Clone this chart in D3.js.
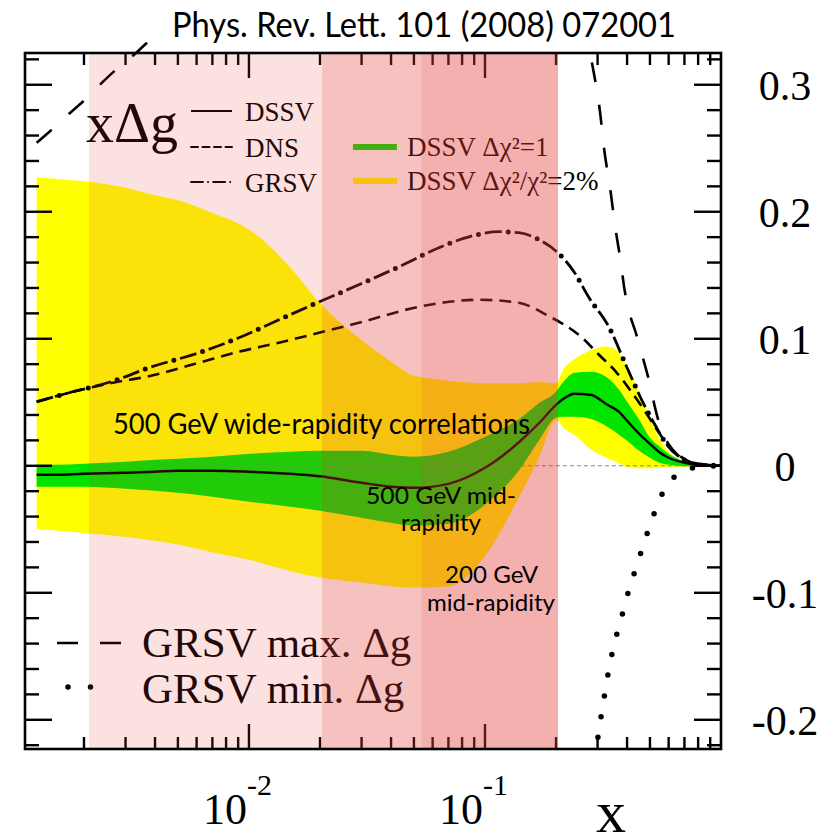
<!DOCTYPE html>
<html>
<head>
<meta charset="utf-8">
<script src="https://cdn.jsdelivr.net/npm/d3@7"></script>
<style>
  body { margin: 0; background: #fff; }
  svg { display: block; }
</style>
</head>
<body>
<svg id="chart" width="831" height="833"></svg>
<script>
// x grid shared by the DSSV central curve and its two uncertainty bands
const bandX = [0.00126, 0.0015, 0.002, 0.003, 0.004, 0.005, 0.007, 0.01, 0.015, 0.02, 0.03, 0.04, 0.05, 0.07, 0.1,
  0.14, 0.17, 0.2, 0.215, 0.24, 0.28, 0.33, 0.37, 0.4, 0.45, 0.5, 0.55, 0.6, 0.7, 0.8, 0.9, 1.0];
const dssvCentral = [-0.0071, -0.0071, -0.0063, -0.0055, -0.0047, -0.0039, -0.0039, -0.0047, -0.0063, -0.0083, -0.0134,
  -0.0165, -0.0173, -0.0142, -0.0016, 0.0189, 0.0339, 0.048, 0.0528, 0.0567, 0.0559, 0.048, 0.0425, 0.0354, 0.0252,
  0.0173, 0.0105, 0.0063, 0.0024, 0.0008, 0.0002, 0];
const greenHi = [0.0008, 0.0008, 0.0016, 0.0031, 0.0047, 0.0055, 0.0071, 0.0094, 0.011, 0.0118, 0.0118, 0.0087, 0.0071,
  0.011, 0.0228, 0.037, 0.0496, 0.0583, 0.0661, 0.0732, 0.074, 0.0693, 0.0598, 0.0504, 0.0362, 0.022, 0.015, 0.0095,
  0.0035, 0.0016, 0.0008, 0.0004];
const greenLo = [-0.0165, -0.0165, -0.0165, -0.0181, -0.0197, -0.0213, -0.0244, -0.0283, -0.0323, -0.0354, -0.0409,
  -0.0449, -0.0472, -0.0457, -0.0307, -0.0031, 0.0205, 0.0378, 0.0386, 0.0386, 0.037, 0.0307, 0.0244, 0.0197, 0.0118,
  0.0063, 0.0024, 0.0008, -0.0004, -0.0008, -0.0008, -0.0004];
const yellowHi = [0.227, 0.226, 0.224, 0.219, 0.213, 0.209, 0.199, 0.186, 0.156, 0.128, 0.099, 0.082, 0.071, 0.067,
  0.065, 0.065, 0.066, 0.065, 0.076, 0.084, 0.091, 0.094, 0.089, 0.078, 0.058, 0.038, 0.021, 0.011, 0.004, 0.002,
  0.0012, 0.0006];
const yellowLo = [-0.05, -0.051, -0.053, -0.056, -0.059, -0.062, -0.068, -0.074, -0.083, -0.088, -0.092, -0.095, -0.096,
  -0.095, -0.071, -0.024, 0.007, 0.036, 0.03, 0.024, 0.013, 0.006, 0.002, -0.001, -0.002, -0.002, -0.0015, -0.001,
  -0.0008, -0.0012, -0.001, -0.0006];

// DNS (dashed)
const dnsX = [0.00126, 0.00173, 0.00268, 0.00377, 0.00614, 0.00907, 0.0134, 0.0198, 0.0292, 0.0525, 0.0704, 0.0944,
  0.139, 0.192, 0.21, 0.258, 0.304, 0.359, 0.42, 0.481, 0.546, 0.62, 0.711, 0.807, 1.0];
const dnsY = [0.0504, 0.0575, 0.0655, 0.0705, 0.0811, 0.0898, 0.0969, 0.1047, 0.1126, 0.1252, 0.1291, 0.1307, 0.1283,
  0.1165, 0.1126, 0.1008, 0.0874, 0.074, 0.0575, 0.0417, 0.026, 0.0126, 0.0047, 0.0008, 0];

// GRSV standard (dash-dot)
const grsvX = [0.00126, 0.00173, 0.00268, 0.00377, 0.00614, 0.00907, 0.0134, 0.0194, 0.0292, 0.0432, 0.0638, 0.0855,
  0.1146, 0.139, 0.1694, 0.2015, 0.2382, 0.2761, 0.3349, 0.4, 0.4766, 0.5309, 0.5902, 0.6637, 0.7534, 1.0];
const grsvY = [0.0504, 0.0575, 0.0669, 0.0772, 0.089, 0.1008, 0.115, 0.1283, 0.1425, 0.1567, 0.1717, 0.1803, 0.1843,
  0.1835, 0.178, 0.1685, 0.1528, 0.1323, 0.1094, 0.0772, 0.0465, 0.0307, 0.0165, 0.0071, 0.0024, 0];

// GRSV max. Δg (long dashes)
const maxX = [0.00126, 0.00149, 0.00173, 0.00204, 0.00236, 0.00276, 0.00326, 0.0037, 0.00436, 0.00645, 0.01, 0.0163,
  0.03, 0.06, 0.12, 0.2, 0.25, 0.27, 0.29, 0.307, 0.32, 0.34, 0.355, 0.375, 0.39, 0.41, 0.435, 0.47, 0.5, 0.525, 0.56,
  0.6, 0.66, 0.73, 0.85, 1.0];
const maxY = [0.2543, 0.2661, 0.2772, 0.289, 0.3008, 0.3126, 0.3236, 0.333, 0.343, 0.36, 0.37, 0.377, 0.381, 0.383,
  0.378, 0.362, 0.345, 0.335, 0.308, 0.279, 0.249, 0.217, 0.19, 0.162, 0.139, 0.12, 0.105, 0.083, 0.064, 0.046, 0.028,
  0.017, 0.008, 0.003, 0.001, 0];

// GRSV min. Δg (dots)
const minX = [0.276, 0.2924, 0.3041, 0.3162, 0.3289, 0.3481, 0.3766, 0.4073, 0.4406, 0.4766, 0.515, 0.556, 0.63, 0.731,
  0.847, 1.0];
const minY = [-0.263, -0.2315, -0.2079, -0.1882, -0.1685, -0.1449, -0.1213, -0.0976, -0.078, -0.0583, -0.0402, -0.0244,
  -0.0094, -0.0024, -0.0008, 0];

// shaded kinematic ranges (x from, x to)
const regionFrom = [0.0021, 0.0204, 0.054];
const regionTo = [0.204, 0.204, 0.204];
const regionAlpha = [0.15, 0.19, 0.13];

const yLabels = [0.3, 0.2, 0.1, 0, -0.1, -0.2];
const xLabels = [{ v: 0.01, exp: '-2' }, { v: 0.1, exp: '-1' }];

const fL = 25, fR = 721, fT = 53, fB = 749;
const serif = '"Liberation Serif", "DejaVu Serif", serif';
const sans = 'Lato, "Open Sans", sans-serif';

const svg = d3.select('#chart');
svg.append('rect').attr('width', 831).attr('height', 833).attr('fill', '#fff');

const x = d3.scaleLog().domain([0.001125, 1]).range([fL, fR]);
const y = d3.scaleLinear().domain([-0.223, 0.325]).range([fB, fT]);

const defs = svg.append('defs');
defs.append('clipPath').attr('id', 'frame')
  .append('rect').attr('x', fL).attr('y', fT).attr('width', fR - fL).attr('height', fB - fT);
defs.append('clipPath').attr('id', 'curves')
  .append('rect').attr('x', fL).attr('y', 41).attr('width', fR - fL).attr('height', fB - 41);

// bands
const rows = bandX.map((v, i) => ({
  x: v, c: dssvCentral[i], gHi: greenHi[i], gLo: greenLo[i], yHi: yellowHi[i], yLo: yellowLo[i]
}));
const bands = svg.append('g').attr('clip-path', 'url(#frame)');
const area = (lo, hi) => d3.area().x(d => x(d.x)).y0(d => y(d[lo])).y1(d => y(d[hi])).curve(d3.curveMonotoneX);
bands.append('path').datum(rows).attr('fill', '#ffff00').attr('d', area('yLo', 'yHi'));
bands.append('path').datum(rows).attr('fill', '#00e400').attr('d', area('gLo', 'gHi'));

// thin zero line
bands.append('line')
  .attr('x1', x(0.005)).attr('x2', x(1)).attr('y1', y(0)).attr('y2', y(0))
  .attr('stroke', '#888').attr('stroke-width', 1).attr('stroke-dasharray', '4,3');

// curves
const line = d3.line().x(d => x(d[0])).y(d => y(d[1])).curve(d3.curveMonotoneX);
const curves = svg.append('g').attr('clip-path', 'url(#curves)').attr('fill', 'none').attr('stroke', '#000');
curves.append('path').attr('d', line(d3.zip(bandX, dssvCentral))).attr('stroke-width', 2.4);
curves.append('path').attr('d', line(d3.zip(dnsX, dnsY))).attr('stroke-width', 2.6).attr('stroke-dasharray', '12,7');
// dash-dot: the dashes and the (bigger) dots are two strokes of the same path
const grsvPath = line(d3.zip(grsvX, grsvY));
curves.append('path').attr('d', grsvPath).attr('stroke-width', 2.8).attr('stroke-dasharray', '17,13');
curves.append('path').attr('d', grsvPath).attr('stroke-width', 5)
  .attr('stroke-linecap', 'round').attr('stroke-dasharray', '0,30').attr('stroke-dashoffset', -23.5);
curves.append('path').attr('d', line(d3.zip(maxX, maxY))).attr('stroke-width', 2.6).attr('stroke-dasharray', '20,23');
curves.append('path').attr('d', line(d3.zip(minX, minY))).attr('stroke-width', 5.5)
  .attr('stroke-linecap', 'round').attr('stroke-dasharray', '0,21');

// legends drawn inside the original plot
const leg = svg.append('g').attr('fill', '#000').attr('font-family', serif);
leg.append('text').attr('x', 86).attr('y', 142).attr('font-size', 56).text('xΔg');
const legLines = [
  { label: 'DSSV', y: 111, dash: null },
  { label: 'DNS', y: 147, dash: '7,4.5' },
  { label: 'GRSV', y: 182, dash: '12,5,0.1,5' }
];
legLines.forEach(l => {
  leg.append('line').attr('x1', 191).attr('x2', 232).attr('y1', l.y).attr('y2', l.y)
    .attr('stroke', '#000').attr('stroke-width', 2).attr('stroke-linecap', l.dash ? 'round' : 'butt')
    .attr('stroke-dasharray', l.dash);
  leg.append('text').attr('x', 245).attr('y', l.y + 10).attr('font-size', 27).text(l.label);
});
leg.append('line').attr('x1', 353).attr('x2', 397).attr('y1', 147).attr('y2', 147)
  .attr('stroke', '#00e400').attr('stroke-width', 6);
leg.append('text').attr('x', 407).attr('y', 156).attr('font-size', 27).text('DSSV Δχ²=1');
leg.append('line').attr('x1', 353).attr('x2', 397).attr('y1', 181).attr('y2', 181)
  .attr('stroke', '#ffff00').attr('stroke-width', 6);
leg.append('text').attr('x', 407).attr('y', 190).attr('font-size', 27).text('DSSV Δχ²/χ²=2%');

leg.append('line').attr('x1', 57).attr('x2', 122).attr('y1', 643).attr('y2', 643)
  .attr('stroke', '#000').attr('stroke-width', 2.6).attr('stroke-dasharray', '21,22');
leg.append('text').attr('x', 142).attr('y', 657).attr('font-size', 43).text('GRSV max. Δg');
leg.append('line').attr('x1', 68).attr('x2', 113).attr('y1', 687).attr('y2', 687)
  .attr('stroke', '#000').attr('stroke-width', 5.5).attr('stroke-linecap', 'round').attr('stroke-dasharray', '0,22.5');
leg.append('text').attr('x', 142).attr('y', 703).attr('font-size', 43).text('GRSV min. Δg');

// ticks on all four sides
const ticks = svg.append('g').attr('stroke', '#000').attr('stroke-width', 2.4);
d3.range(-11, 17).forEach(k => {
  const v = k * 0.02, major = k % 5 === 0, len = major ? 27 : 14;
  ticks.append('line').attr('x1', fL).attr('x2', fL + len).attr('y1', y(v)).attr('y2', y(v));
  ticks.append('line').attr('x1', fR).attr('x2', fR - len).attr('y1', y(v)).attr('y2', y(v));
});
[-3, -2, -1].forEach(e => d3.range(1, 10).forEach(m => {
  const v = m * Math.pow(10, e);
  if (v < x.domain()[0]) return;
  const len = m === 1 ? 25 : 12;
  ticks.append('line').attr('x1', x(v)).attr('x2', x(v)).attr('y1', fB).attr('y2', fB - len);
  ticks.append('line').attr('x1', x(v)).attr('x2', x(v)).attr('y1', fT).attr('y2', fT + len);
}));

// shaded x ranges, laid over the plot
const shade = svg.append('g');
regionFrom.forEach((lo, i) => {
  shade.append('rect')
    .attr('x', x(lo)).attr('y', fT + 1)
    .attr('width', x(regionTo[i]) - x(lo)).attr('height', fB - fT - 2)
    .attr('fill', '#e53c37').attr('fill-opacity', regionAlpha[i]);
});

// frame
svg.append('rect').attr('x', fL).attr('y', fT).attr('width', fR - fL).attr('height', fB - fT)
  .attr('fill', 'none').attr('stroke', '#000').attr('stroke-width', 2.6);

// annotations
const notes = [
  { t: '500 GeV wide-rapidity correlations', x: 113, y: 434, size: 28, w: 417 },
  { t: '500 GeV mid-', x: 366, y: 504, size: 24, w: 150 },
  { t: 'rapidity', x: 401, y: 531, size: 24, w: 80 },
  { t: '200 GeV', x: 445, y: 583, size: 24, w: 93 },
  { t: 'mid-rapidity', x: 427, y: 611, size: 24, w: 128 }
];
notes.forEach(n => {
  svg.append('text').attr('x', n.x).attr('y', n.y).attr('font-family', sans).attr('font-size', n.size)
    .attr('textLength', n.w).attr('lengthAdjust', 'spacingAndGlyphs').attr('fill', '#000').text(n.t);
});

// title
svg.append('text').attr('x', 172).attr('y', 37).attr('font-family', sans).attr('font-size', 34)
  .attr('textLength', 504).attr('lengthAdjust', 'spacingAndGlyphs').text('Phys. Rev. Lett. 101 (2008) 072001');

// right y labels
svg.append('g').selectAll('text').data(yLabels).join('text')
  .attr('x', 785).attr('y', d => y(d) + 15).attr('text-anchor', 'middle')
  .attr('font-family', serif).attr('font-size', 42)
  .text(d => d === 0 ? '0' : String(d));

// bottom x labels
xLabels.forEach(l => {
  const t = svg.append('text').attr('font-family', serif).attr('font-size', 44)
    .attr('x', x(l.v) - 46).attr('y', 824);
  t.append('tspan').text('10');
  t.append('tspan').attr('dy', -29).attr('font-size', 30).text(l.exp);
});
svg.append('text').attr('x', 596).attr('y', 832).attr('font-family', serif).attr('font-size', 60).text('x');
</script>
</body>
</html>
